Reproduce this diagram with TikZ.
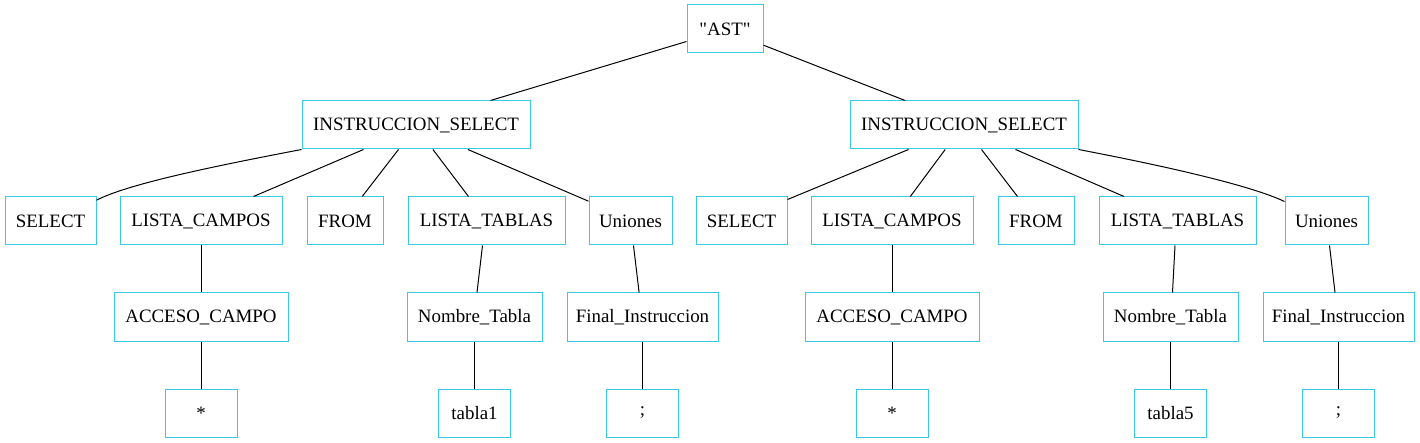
\documentclass[tikz,border=0pt]{standalone}
\usepackage{fontspec}
\setmainfont{Liberation Serif}
\usetikzlibrary{calc}
\definecolor{boxcol}{RGB}{56,200,232}
\newcommand{\straightquote}{\XeTeXglyph\XeTeXcharglyph"22\relax}
\begin{document}
\begin{tikzpicture}[x=1pt,y=-1pt,
  box/.style={draw=boxcol,line width=1pt,rectangle,inner sep=0pt,minimum height=48pt,
    font=\fontsize{18.9}{22}\selectfont,text=black},
  edge/.style={draw=black,line width=1pt}]
\fill[white] (0,0) rectangle (1420,443);
\useasboundingbox (0,0) rectangle (1420,443);
% level 0
\node[box,minimum width=76pt] (ast) at (725,29) {\straightquote AST\straightquote};
% level 1
\node[box,minimum width=228pt] (i1) at (416,125) {INSTRUCCION\_SELECT};
\node[box,minimum width=228pt] (i2) at (964,125) {INSTRUCCION\_SELECT};
% level 2
\node[box,minimum width=91pt] (sel1) at (50.5,221) {SELECT};
\node[box,minimum width=162pt] (lc1) at (201,221) {LISTA\_CAMPOS};
\node[box,minimum width=76pt] (from1) at (345,221) {FROM};
\node[box,minimum width=157pt] (lt1) at (486.5,221) {LISTA\_TABLAS};
\node[box,minimum width=83pt] (un1) at (630.5,221) {Uniones};
\node[box,minimum width=91pt] (sel2) at (741.5,221) {SELECT};
\node[box,minimum width=162pt] (lc2) at (892,221) {LISTA\_CAMPOS};
\node[box,minimum width=76pt] (from2) at (1036,221) {FROM};
\node[box,minimum width=157pt] (lt2) at (1177.5,221) {LISTA\_TABLAS};
\node[box,minimum width=83pt] (un2) at (1326.5,221) {Uniones};
% level 3
\node[box,minimum width=174pt] (ac1) at (201,317) {ACCESO\_CAMPO};
\node[box,minimum width=135pt] (nt1) at (474.5,317) {Nombre\_Tabla};
\node[box,minimum width=151pt] (fi1) at (642.5,317) {Final\_Instruccion};
\node[box,minimum width=174pt] (ac2) at (892,317) {ACCESO\_CAMPO};
\node[box,minimum width=135pt] (nt2) at (1170.5,317) {Nombre\_Tabla};
\node[box,minimum width=151pt] (fi2) at (1338.5,317) {Final\_Instruccion};
% level 4
\node[box,minimum width=72pt] (st1) at (201,413) {*};
\node[box,minimum width=72pt] (tb1) at (474.5,413) {tabla1};
\node[box,minimum width=72pt] (sc1) at (642.5,413) {;};
\node[box,minimum width=72pt] (st2) at (892,413) {*};
\node[box,minimum width=72pt] (tb5) at (1170.5,413) {tabla5};
\node[box,minimum width=72pt] (sc2) at (1338.5,413) {;};
% edges
\path[edge] ($(ast.north west)+(0,37)$) -- ($(i1.north west)+(189,0)$);
\path[edge] ($(ast.north east)+(0,40.7)$) -- ($(i2.north west)+(55.6,0)$);
\path[edge] (i1.south west) .. controls (210,167) and (128,184) .. ($(sel1.north east)+(0,3.7)$);
\path[edge] ($(i1.south west)+(62,0)$) -- ($(lc1.north west)+(134,0)$);
\path[edge] ($(i1.south west)+(97,0)$) -- ($(from1.north west)+(55.7,0)$);
\path[edge] ($(i1.south west)+(131.4,0)$) -- ($(lt1.north west)+(61,0)$);
\path[edge] ($(i1.south west)+(166.4,0)$) -- ($(un1.north west)+(0,4.7)$);
\path[edge] ($(i2.south west)+(59,0)$) -- ($(sel2.north east)+(0,3)$);
\path[edge] ($(i2.south west)+(95.7,0)$) -- ($(lc2.north west)+(99.8,0)$);
\path[edge] ($(i2.south west)+(132,0)$) -- ($(from2.north west)+(20,0)$);
\path[edge] ($(i2.south west)+(166,0)$) -- ($(lt2.north west)+(25.5,0)$);
\path[edge] (i2.south east) .. controls (1170,167) and (1252,186) .. ($(un2.north west)+(0,5)$);
\path[edge] (lc1.south) -- (ac1.north);
\path[edge] ($(lt1.south west)+(75,0)$) -- ($(nt1.north west)+(70.5,0)$);
\path[edge] ($(un1.south west)+(45,0)$) -- ($(fi1.north west)+(72.6,0)$);
\path[edge] (ac1.south) -- (st1.north);
\path[edge] (nt1.south) -- (tb1.north);
\path[edge] (fi1.south) -- (sc1.north);
\path[edge] (lc2.south) -- (ac2.north);
\path[edge] ($(lt2.south west)+(76.5,0)$) -- ($(nt2.north west)+(70,0)$);
\path[edge] ($(un2.south west)+(45,0)$) -- ($(fi2.north west)+(72.5,0)$);
\path[edge] (ac2.south) -- (st2.north);
\path[edge] (nt2.south) -- (tb5.north);
\path[edge] (fi2.south) -- (sc2.north);
\end{tikzpicture}
\end{document}
